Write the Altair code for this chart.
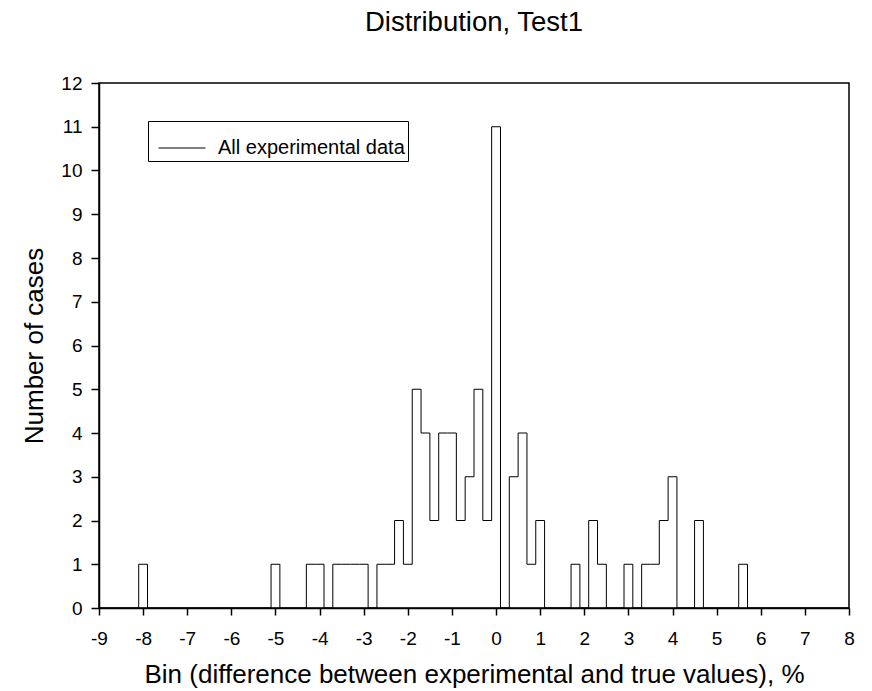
import altair as alt
import pandas as pd
import numpy as np

# Histogram values (bin width 0.2, centred on even tenths)
bin_centers = [-8.0, -5.0, -4.2, -4.0, -3.6, -3.4, -3.2, -3.0, -2.6, -2.4, -2.2, -2.0,
               -1.8, -1.6, -1.4, -1.2, -1.0, -0.8, -0.6, -0.4, -0.2, 0.0, 0.4, 0.6,
               0.8, 1.0, 1.8, 2.2, 2.4, 3.0, 3.4, 3.6, 3.8, 4.0, 4.6, 5.6]
counts = [1, 1, 1, 1, 1, 1, 1, 1, 1, 1, 2, 1,
          5, 4, 2, 4, 4, 2, 3, 5, 2, 11, 3, 4,
          1, 2, 1, 2, 1, 1, 1, 1, 2, 3, 2, 1]
bin_width = 0.2
x_ticks = list(range(-9, 9))
y_ticks = list(range(0, 13))
series_name = "All experimental data"

# Build a step outline table: each bin's left edge with its count (empty bins = 0)
lookup = {round(c, 1): n for c, n in zip(bin_centers, counts)}
n_bins = int(round((max(bin_centers) - min(bin_centers)) / bin_width)) + 1
rows = [{"x": float(x_ticks[0]), "y": 0}]
for i in range(n_bins):
    c = round(min(bin_centers) + i * bin_width, 1)
    rows.append({"x": round(c - bin_width / 2, 2), "y": lookup.get(c, 0)})
rows.append({"x": round(max(bin_centers) + bin_width / 2, 2), "y": 0})
rows.append({"x": float(x_ticks[-1]), "y": 0})
df = pd.DataFrame(rows)
df["series"] = series_name

FONT = "Liberation Sans"

chart = alt.Chart(df).mark_line(
    interpolate="step-after", strokeWidth=1
).encode(
    x=alt.X("x:Q",
            scale=alt.Scale(domain=[-9, 8], nice=False, zero=False),
            axis=alt.Axis(values=x_ticks, title="Bin (difference between experimental and true values), %",
                          labelExpr="'' + datum.value",
                          grid=False, tickSize=7, tickWidth=1.5, domainWidth=1.5,
                          domainColor="black", tickColor="black", labelColor="black",
                          titleColor="black", labelFontSize=19, labelPadding=14,
                          labelFlush=False, labelOverlap=False,
                          titleFontSize=26, titleFontWeight="normal",
                          titleX=375, titleY=74, titleBaseline="alphabetic",
                          titleAlign="center")),
    y=alt.Y("y:Q",
            scale=alt.Scale(domain=[0, 12], nice=False),
            axis=alt.Axis(values=y_ticks, title="Number of cases",
                          grid=False, tickSize=8, tickWidth=1.5, domainWidth=1.5,
                          domainColor="black", tickColor="black", labelColor="black",
                          titleColor="black", labelFontSize=19, labelPadding=9,
                          labelFlush=False, labelOverlap=False,
                          titleFontSize=26, titleFontWeight="normal",
                          titleX=-57, titleY=262.5, titleAngle=270,
                          titleBaseline="alphabetic", titleAlign="center")),
    color=alt.Color("series:N",
                    scale=alt.Scale(range=["black"]),
                    legend=alt.Legend(title=None, orient="none", legendX=49, legendY=38,
                                      strokeColor="black", padding=3,
                                      symbolType="stroke", symbolSize=2209,
                                      symbolOffset=7,
                                      symbolStrokeWidth=1, labelFontSize=20,
                                      labelOffset=12, labelColor="black",
                                      labelLimit=0, labelFont=FONT)),
    order="x:Q",
).properties(
    width=750,
    height=525,
    padding={"left": 99, "top": 83, "right": 23, "bottom": 83},
    autosize=alt.AutoSizeParams(type="none"),
    title=alt.TitleParams("Distribution, Test1", fontSize=27.5, font=FONT,
                          fontWeight="normal", color="black", anchor="middle",
                          baseline="alphabetic", offset=16),
).configure(
    font=FONT,
    background="white",
).configure_view(
    stroke="black",
    strokeWidth=1.5,
)

chart.save("out.html", embed_options={"renderer": "svg", "actions": False})
